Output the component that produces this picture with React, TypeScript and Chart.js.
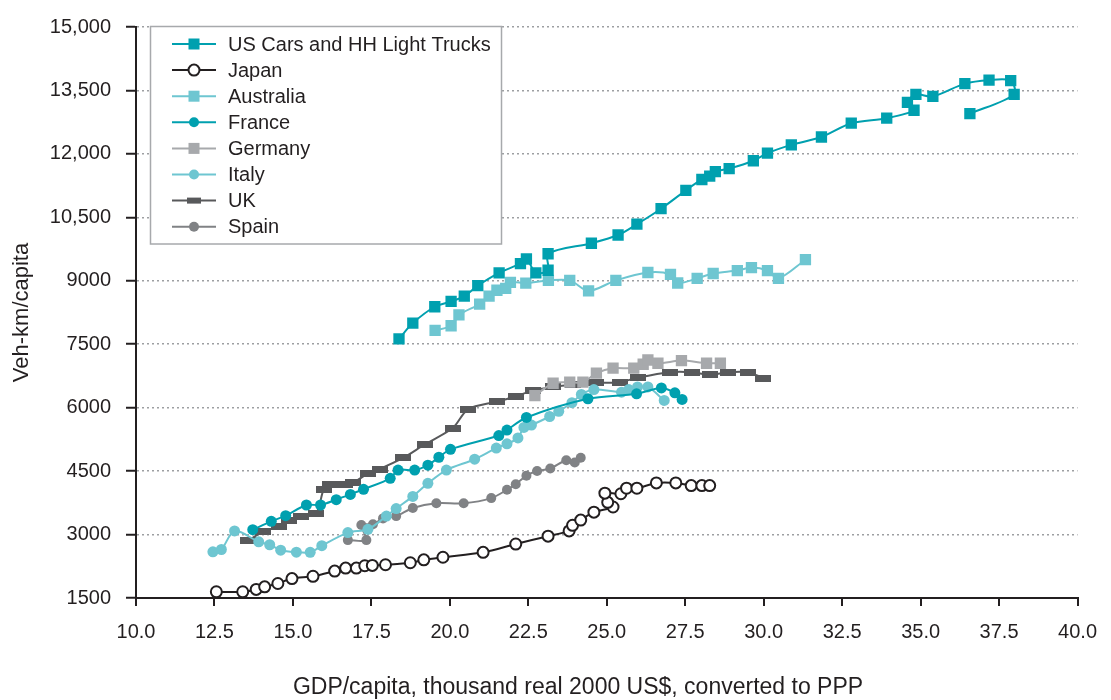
import React, { useEffect, useRef } from "react";
import { Chart, registerables } from "chart.js";

Chart.register(...registerables);

// ---------- DATA ----------
const usGdp = [18.38, 18.82, 19.52, 20.04, 20.46, 20.89, 21.57, 22.25, 22.44, 22.74, 23.13, 23.13, 24.51, 25.36, 25.96, 26.73, 27.52, 28.03, 28.28, 28.46, 28.9, 29.67, 30.12, 30.88, 31.84, 32.79, 33.92, 34.79, 34.58, 34.85, 35.39, 36.41, 37.18, 37.87, 37.98, 36.57];
const usVkt = [7626, 7999, 8386, 8512, 8636, 8886, 9189, 9405, 9515, 9189, 9249, 9639, 9888, 10082, 10338, 10704, 11138, 11395, 11474, 11581, 11651, 11838, 12017, 12213, 12400, 12726, 12845, 13032, 13218, 13405, 13358, 13661, 13743, 13731, 13405, 12950];

const jpGdp = [12.56, 13.4, 13.83, 14.1, 14.52, 14.97, 15.64, 16.33, 16.68, 17.02, 17.29, 17.53, 17.95, 18.74, 19.17, 19.78, 21.06, 22.1, 23.13, 23.8, 23.91, 24.17, 24.59, 25.2, 25.03, 24.94, 25.45, 25.63, 25.96, 26.58, 27.2, 27.69, 28.03, 28.28];
const jpVkt = [1647, 1647, 1703, 1764, 1843, 1959, 2013, 2137, 2207, 2207, 2263, 2270, 2286, 2333, 2402, 2463, 2580, 2776, 2962, 3086, 3219, 3342, 3529, 3652, 3762, 3979, 3965, 4096, 4096, 4221, 4221, 4158, 4158, 4158];

const auGdp = [19.53, 20.04, 20.29, 20.95, 21.25, 21.5, 21.78, 21.93, 22.42, 23.14, 23.82, 24.42, 25.29, 26.31, 27.03, 27.26, 27.88, 28.39, 29.16, 29.61, 30.12, 30.47, 31.33];
const auVkt = [7827, 7936, 8193, 8449, 8636, 8776, 8822, 8962, 8946, 9009, 9009, 8760, 9009, 9196, 9150, 8948, 9055, 9172, 9242, 9312, 9242, 9055, 9498];

const frGdp = [13.72, 14.31, 14.77, 15.43, 15.88, 16.38, 16.83, 17.25, 18.1, 18.35, 18.88, 19.3, 19.65, 20.02, 21.56, 21.82, 22.44, 24.4, 25.95, 26.74, 27.17, 27.4];
const frVkt = [3114, 3312, 3447, 3699, 3699, 3825, 3949, 4070, 4329, 4525, 4525, 4641, 4828, 5014, 5341, 5471, 5768, 6211, 6327, 6467, 6351, 6194];

const deGdp = [22.71, 23.29, 23.82, 24.24, 24.67, 25.2, 25.86, 26.16, 26.31, 26.63, 27.38, 28.18, 28.62];
const deVkt = [6285, 6577, 6602, 6602, 6817, 6934, 6934, 7027, 7127, 7050, 7113, 7050, 7050];

const itGdp = [12.45, 12.72, 13.14, 13.91, 14.26, 14.61, 15.11, 15.55, 15.92, 16.75, 17.39, 17.98, 18.29, 18.82, 19.3, 19.89, 20.79, 21.48, 21.82, 22.17, 22.36, 22.6, 23.18, 23.47, 23.89, 24.19, 24.59, 25.47, 25.7, 25.98, 26.31, 26.83];
const itVkt = [2591, 2647, 3086, 2829, 2759, 2631, 2584, 2580, 2736, 3046, 3125, 3436, 3615, 3902, 4212, 4525, 4781, 5045, 5145, 5285, 5534, 5588, 5791, 5914, 6117, 6311, 6428, 6367, 6428, 6490, 6490, 6171];

const ukGdp = [13.56, 14.06, 14.57, 14.89, 15.27, 15.74, 15.98, 16.17, 16.65, 16.93, 17.39, 17.76, 18.51, 19.2, 20.09, 20.58, 21.51, 22.12, 22.65, 23.28, 23.92, 24.65, 25.41, 26.0, 27.01, 27.72, 28.28, 28.87, 29.5, 29.98];
const ukVkt = [2853, 3069, 3202, 3342, 3436, 3506, 4065, 4175, 4175, 4228, 4445, 4548, 4811, 5131, 5518, 5961, 6145, 6269, 6409, 6490, 6544, 6584, 6600, 6712, 6840, 6840, 6777, 6840, 6840, 6700];

const esGdp = [16.75, 17.34, 17.18, 17.55, 17.87, 18.29, 18.82, 19.57, 20.44, 21.32, 21.82, 22.1, 22.44, 22.78, 23.2, 23.71, 23.98, 24.17];
const esVkt = [2869, 2869, 3226, 3242, 3382, 3436, 3629, 3739, 3739, 3862, 4058, 4189, 4392, 4501, 4562, 4758, 4702, 4818];

const seriesLabels = ["US Cars and HH Light Trucks", "Japan", "Australia", "France", "Germany", "Italy", "UK", "Spain"];

const xTickValues = [10, 12.5, 15, 17.5, 20, 22.5, 25, 27.5, 30, 32.5, 35, 37.5, 40];
const xTickLabels = ["10.0", "12.5", "15.0", "17.5", "20.0", "22.5", "25.0", "27.5", "30.0", "32.5", "35.0", "37.5", "40.0"];
const yTickValues = [1500, 3000, 4500, 6000, 7500, 9000, 10500, 12000, 13500, 15000];
const yTickLabels = ["1500", "3000", "4500", "6000", "7500", "9000", "10,500", "12,000", "13,500", "15,000"];

const xTitle = "GDP/capita, thousand real 2000 US$, converted to PPP";
const yTitle = "Veh-km/capita";

// ---------- STYLE ----------
const FONT = '"Liberation Sans", Arial, Helvetica, sans-serif';
const TEXT = "#231F20";
const TEAL = "#00A0AF";
const LTEAL = "#6EC6D1";
const DGRAY = "#58595B";
const LGRAY = "#A7A9AC";
const MGRAY = "#808285";

type Marker = "square" | "circle" | "open" | "bar";
const seriesStyles: { color: string; marker: Marker; size: number }[] = [
  { color: TEAL, marker: "square", size: 8 },
  { color: TEXT, marker: "open", size: 6 },
  { color: LTEAL, marker: "square", size: 8 },
  { color: TEAL, marker: "circle", size: 5.5 },
  { color: LGRAY, marker: "square", size: 8 },
  { color: LTEAL, marker: "circle", size: 5.5 },
  { color: DGRAY, marker: "bar", size: 7 },
  { color: MGRAY, marker: "circle", size: 5 },
];

const toPts = (xs: number[], ys: number[]) => xs.map((x, i) => ({ x, y: ys[i] }));
const seriesData = [
  toPts(usGdp, usVkt),
  toPts(jpGdp, jpVkt),
  toPts(auGdp, auVkt),
  toPts(frGdp, frVkt),
  toPts(deGdp, deVkt),
  toPts(itGdp, itVkt),
  toPts(ukGdp, ukVkt),
  toPts(esGdp, esVkt),
];

function makeBar(color: string, w: number, h: number) {
  const c = document.createElement("canvas");
  c.width = w;
  c.height = h;
  const g = c.getContext("2d")!;
  g.fillStyle = color;
  g.fillRect(0, 0, w, h);
  return c;
}

function drawMarker(ctx: CanvasRenderingContext2D, m: Marker, color: string, x: number, y: number) {
  ctx.save();
  if (m === "square") {
    ctx.fillStyle = color;
    ctx.fillRect(x - 5.5, y - 5.5, 11, 11);
  } else if (m === "circle") {
    ctx.fillStyle = color;
    ctx.beginPath();
    ctx.arc(x, y, 5, 0, Math.PI * 2);
    ctx.fill();
  } else if (m === "open") {
    ctx.fillStyle = "#fff";
    ctx.strokeStyle = color;
    ctx.lineWidth = 2;
    ctx.beginPath();
    ctx.arc(x, y, 5.5, 0, Math.PI * 2);
    ctx.fill();
    ctx.stroke();
  } else {
    ctx.fillStyle = color;
    ctx.fillRect(x - 7, y - 3, 14, 6);
  }
  ctx.restore();
}

const legendPlugin = {
  id: "boxLegend",
  afterDraw(chart: any) {
    const ctx: CanvasRenderingContext2D = chart.ctx;
    ctx.save();
    ctx.fillStyle = "#fff";
    ctx.fillRect(150.5, 26.5, 351, 217.5);
    ctx.strokeStyle = LGRAY;
    ctx.lineWidth = 1.5;
    ctx.strokeRect(150.5, 26.5, 351, 217.5);
    seriesLabels.forEach((label, i) => {
      const st = seriesStyles[i];
      const y = 44 + i * 26.1;
      ctx.strokeStyle = st.color;
      ctx.lineWidth = 2;
      ctx.beginPath();
      ctx.moveTo(172, y);
      ctx.lineTo(216, y);
      ctx.stroke();
      drawMarker(ctx, st.marker, st.color, 194, y);
      ctx.fillStyle = TEXT;
      ctx.font = `20px ${FONT}`;
      ctx.textBaseline = "middle";
      ctx.textAlign = "left";
      ctx.fillText(label, 228, y + 1);
    });
    // x-axis title
    ctx.fillStyle = TEXT;
    ctx.font = `23px ${FONT}`;
    ctx.textAlign = "center";
    ctx.textBaseline = "middle";
    ctx.fillText(xTitle, 578, 688);
    ctx.restore();
  },
};

export default function App() {
  const ref = useRef<HTMLCanvasElement | null>(null);

  useEffect(() => {
    document.body.style.margin = "0";
    const canvas = ref.current;
    if (!canvas) return;
    const ukBar = makeBar(DGRAY, 16, 7);

    const datasets = seriesData.map((data, i) => {
      const st = seriesStyles[i];
      const base: any = {
        label: seriesLabels[i],
        data,
        showLine: true,
        borderColor: st.color,
        backgroundColor: st.color,
        borderWidth: 2,
        tension: 0.3,
        pointRadius: st.size,
        pointHoverRadius: st.size,
        pointBorderWidth: 0,
        pointBackgroundColor: st.color,
        pointBorderColor: st.color,
      };
      if (st.marker === "square") base.pointStyle = "rect";
      else if (st.marker === "circle") base.pointStyle = "circle";
      else if (st.marker === "open") {
        base.pointStyle = "circle";
        base.pointBackgroundColor = "#fff";
        base.pointBorderWidth = 2;
        base.pointRadius = 5.5;
      } else {
        base.pointStyle = ukBar;
      }
      return base;
    });

    const chart = new Chart(canvas, {
      type: "scatter",
      data: { datasets },
      plugins: [legendPlugin],
      options: {
        animation: false,
        responsive: false,
        devicePixelRatio: 1,
        layout: { padding: { top: 19, right: 33, bottom: 0, left: 0 } },
        plugins: { legend: { display: false }, tooltip: { enabled: false } },
        scales: {
          x: {
            type: "linear",
            min: 10,
            max: 40,
            afterBuildTicks: (s: any) => {
              s.ticks = xTickValues.map((v) => ({ value: v }));
            },
            afterFit: (s: any) => {
              s.height = 102;
            },
            ticks: {
              autoSkip: false,
              maxRotation: 0,
              padding: 14,
              color: TEXT,
              font: { family: FONT, size: 20 },
              callback: (_v: any, i: number) => xTickLabels[i],
            },
            grid: {
              drawOnChartArea: false,
              drawTicks: true,
              tickLength: 8,
              color: TEXT,
              lineWidth: 2,
            },
            border: { color: TEXT, width: 2 },
            title: { display: false },
          },
          y: {
            type: "linear",
            min: 1500,
            max: 15000,
            afterBuildTicks: (s: any) => {
              s.ticks = yTickValues.map((v) => ({ value: v }));
            },
            afterFit: (s: any) => {
              s.width = 136;
            },
            ticks: {
              padding: 15,
              color: TEXT,
              font: { family: FONT, size: 20 },
              callback: (_v: any, i: number) => yTickLabels[i],
            },
            grid: {
              color: "#9D9FA2",
              lineWidth: 1.5,
              tickColor: TEXT,
              tickLength: 10,
              tickWidth: 2,
              tickBorderDash: [],
            },
            border: { color: TEXT, width: 2, dash: [2, 3] },
            title: {
              display: true,
              text: yTitle,
              color: TEXT,
              font: { family: FONT, size: 22 },
              padding: { top: 9, bottom: 0 },
            },
          },
        },
      } as any,
    });
    return () => chart.destroy();
  }, []);

  return (
    <div style={{ width: 1111, height: 700, position: "relative" }}>
      <canvas ref={ref} width={1111} height={700} style={{ display: "block" }} />
    </div>
  );
}
